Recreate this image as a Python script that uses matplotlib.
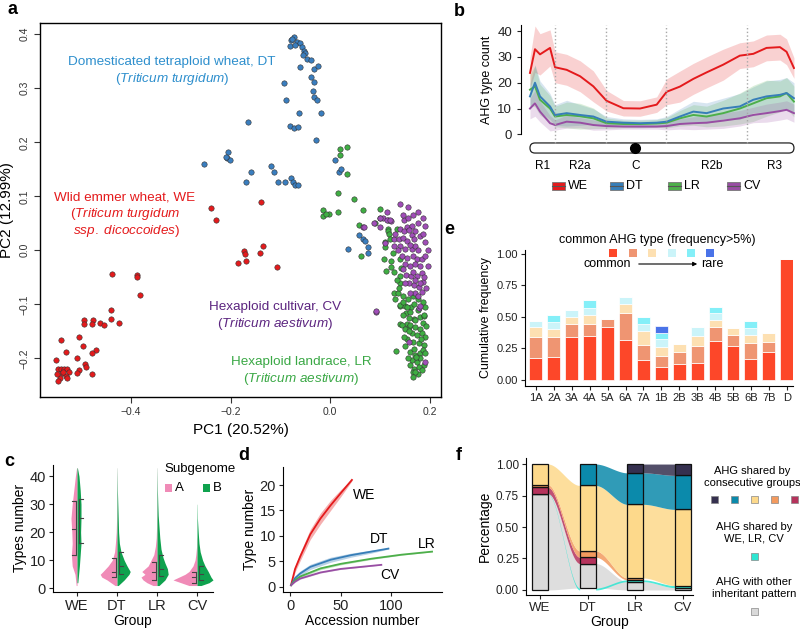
import numpy as np
import matplotlib
matplotlib.use("Agg")
import matplotlib.pyplot as plt
from matplotlib.patches import Rectangle, FancyBboxPatch

plt.rcParams['font.family'] = ['Liberation Sans', 'DejaVu Sans']
plt.rcParams['mathtext.fontset'] = 'custom'
plt.rcParams['mathtext.rm'] = 'Liberation Sans'
plt.rcParams['mathtext.it'] = 'Liberation Sans:italic'

# ---------------- panel a: PCA ----------------
we_x = [-0.239, -0.230, -0.139, -0.173, -0.170, -0.169, -0.185, -0.140, -0.135, -0.107,
        -0.438, -0.387, -0.387, -0.381, -0.440, -0.440, -0.493, -0.475, -0.461, -0.477,
        -0.453, -0.423, -0.493, -0.539, -0.503, -0.530, -0.495, -0.470, -0.477, -0.508,
        -0.492, -0.549, -0.545, -0.540, -0.533, -0.528, -0.523, -0.490, -0.503, -0.477,
        -0.507, -0.537, -0.530, -0.541, -0.545, -0.527, -0.535, -0.548]
we_y = [0.079, 0.057, 0.089, -0.001, -0.007, -0.019, -0.024, -0.005, 0.008, -0.031,
        -0.043, -0.046, -0.050, -0.083, -0.110, -0.128, -0.130, -0.129, -0.134, -0.137,
        -0.139, -0.134, -0.137, -0.167, -0.161, -0.188, -0.178, -0.184, -0.190, -0.199,
        -0.210, -0.204, -0.220, -0.220, -0.220, -0.220, -0.226, -0.217, -0.222, -0.230,
        -0.228, -0.228, -0.232, -0.237, -0.242, -0.237, -0.226, -0.230]

dt_x = [-0.073, -0.078, -0.081, -0.067, -0.060, -0.057, -0.053, -0.050, -0.055, -0.047,
        -0.039, -0.060, -0.033, -0.025, -0.039, -0.032, -0.093, -0.035, -0.033, -0.027,
        -0.088, -0.018, -0.062, -0.165, -0.081, -0.073, -0.065, -0.028, -0.205, -0.207,
        -0.201, -0.210, -0.253, -0.159, -0.169, -0.119, -0.112, -0.105, -0.091, -0.078,
        -0.075, -0.070, -0.065, 0.010, 0.017, 0.021, 0.035, 0.057, 0.065, 0.070,
        0.075, 0.076, -0.076, -0.071]
dt_y = [0.395, 0.389, 0.378, 0.386, 0.383, 0.377, 0.370, 0.366, 0.361, 0.355,
        0.353, 0.339, 0.336, 0.341, 0.321, 0.312, 0.309, 0.295, 0.284, 0.279,
        0.278, 0.254, 0.254, 0.238, 0.230, 0.227, 0.228, 0.204, 0.182, 0.170,
        0.168, 0.173, 0.159, 0.145, 0.127, 0.157, 0.145, 0.126, 0.126, 0.133,
        0.127, 0.120, 0.120, 0.168, 0.145, 0.150, 0.0015, 0.028, 0.021, 0.018,
        0.007, -0.005, 0.392, 0.380]

lr_x = [0.019, 0.033, 0.019, 0.033, 0.015, 0.047, -0.015, -0.003, -0.015, -0.008,
        0.015, 0.065, 0.057, 0.061, 0.100, 0.099, 0.089, 0.115, 0.115, 0.133,
        0.110, 0.110, 0.107, 0.121, 0.112, 0.140, 0.141, 0.140, 0.139, 0.127,
        0.135, 0.145, 0.139, 0.150, 0.152, 0.162, 0.140, 0.153, 0.167, 0.180,
        0.187, 0.157, 0.140, 0.153, 0.167, 0.187, 0.143, 0.150, 0.160, 0.170,
        0.180, 0.163, 0.173, 0.183, 0.153, 0.165, 0.177, 0.188, 0.132, 0.160,
        0.170, 0.180, 0.163, 0.173, 0.187, 0.167, 0.177, 0.165, 0.175, 0.118,
        0.120, 0.125, 0.122, 0.128, 0.133, 0.138, 0.130, 0.145, 0.155, 0.165,
        0.175, 0.185, 0.190, 0.175, 0.160, 0.145, 0.170, 0.185, 0.158, 0.190,
        0.150, 0.168, 0.185, 0.155, 0.180, 0.190, 0.160, 0.170, 0.183, 0.165,
        0.148, 0.158, 0.182, 0.192, 0.172]
lr_y = [0.188, 0.191, 0.176, 0.142, 0.106, 0.095, 0.074, 0.068, 0.063, 0.067,
        0.071, 0.074, 0.046, -0.011, 0.077, 0.059, 0.050, 0.040, 0.035, 0.039,
        0.016, 0.007, -0.016, -0.031, -0.039, -0.017, -0.033, -0.047, -0.061, -0.079,
        -0.080, -0.085, -0.103, -0.104, -0.117, -0.105, -0.136, -0.136, -0.127, -0.124,
        -0.121, -0.142, -0.102, -0.105, -0.099, -0.120, -0.139, -0.145, -0.139, -0.142,
        -0.145, -0.154, -0.157, -0.154, -0.164, -0.170, -0.172, -0.176, -0.187, -0.188,
        -0.194, -0.191, -0.204, -0.207, -0.213, -0.219, -0.216, -0.226, -0.230, 0.030,
        0.020, -0.005, -0.020, -0.040, -0.055, -0.070, -0.090, -0.095, -0.090, -0.085,
        -0.090, -0.095, -0.105, -0.110, -0.115, -0.120, -0.130, -0.135, -0.150, -0.160,
        -0.178, -0.182, -0.185, -0.200, -0.200, -0.190, -0.212, -0.225, -0.222, -0.235,
        -0.160, -0.125, -0.165, -0.140, -0.198]

cv_x = [0.092, 0.177, 0.157, 0.190, 0.139, 0.155, 0.113, 0.105, 0.115, 0.121,
        0.088, 0.100, 0.065, 0.147, 0.153, 0.163, 0.140, 0.148, 0.157, 0.163,
        0.127, 0.137, 0.145, 0.153, 0.167, 0.179, 0.110, 0.127, 0.140, 0.150,
        0.163, 0.170, 0.143, 0.153, 0.165, 0.173, 0.183, 0.150, 0.160, 0.170,
        0.180, 0.152, 0.161, 0.173, 0.183, 0.157, 0.167, 0.177, 0.185, 0.170,
        0.183, 0.179, 0.092, 0.100, 0.113, 0.119, 0.067, 0.175, 0.165, 0.185,
        0.190, 0.175, 0.185, 0.190, 0.195, 0.190, 0.195, 0.188, 0.192, 0.175,
        0.160, 0.150, 0.145, 0.135, 0.130, 0.155, 0.145, 0.170, 0.160, 0.175,
        0.165, 0.180, 0.170]
cv_y = [-0.115, -0.106, -0.170, -0.207, 0.086, 0.080, 0.071, 0.060, 0.057, 0.055,
        0.050, 0.043, 0.043, 0.057, 0.044, 0.045, 0.040, 0.035, 0.038, 0.029,
        0.021, 0.020, 0.023, 0.017, 0.020, 0.026, 0.014, 0.008, 0.008, 0.003,
        0.002, 0.008, -0.011, -0.014, -0.010, -0.017, -0.017, -0.026, -0.029, -0.026,
        -0.029, -0.045, -0.048, -0.047, -0.042, -0.061, -0.065, -0.068, -0.059, -0.079,
        -0.077, -0.103, -0.112, 0.059, 0.057, 0.057, 0.044, 0.070, 0.065, 0.060,
        0.045, 0.050, 0.030, 0.015, 0.000, -0.010, -0.030, -0.050, -0.070, -0.085,
        -0.080, -0.060, -0.035, 0.000, 0.030, 0.060, 0.065, 0.035, 0.010, 0.000,
        -0.040, -0.060, -0.055]

# ---------------- panel b: AHG type count along chromosome ----------------
b_pos = [0, 1.9, 3.8, 7.6, 9.5, 13.9, 19.0, 24.0, 29.0, 35.4, 41.7, 48.0,
         51.8, 56.8, 61.9, 66.9, 73.2, 79.5, 84.6, 89.6, 94.7, 97.2, 100]
b_we = [23.8, 33, 31, 33.5, 26, 25, 22.5, 18.6, 13, 10.1, 10, 11.5,
        16.5, 18.5, 21.5, 24, 27, 30.5, 31.2, 33.5, 33.8, 32, 25.7]
b_we_sd = [6, 9, 8, 7, 6, 6, 6, 6, 4, 3, 3, 3, 5, 6, 6, 6, 6, 5, 5, 5, 5, 5, 4]
b_dt = [14.7, 20, 14.7, 10.8, 7.5, 8.2, 7.5, 6.9, 4.9, 4.5, 4.3, 4.5,
        4.9, 6.9, 8.8, 8.2, 10, 10.8, 13.4, 14.7, 15.3, 16, 14]
b_dt_sd = [5, 7, 6, 5, 4, 5, 4, 3, 2, 1.5, 1.5, 1.5, 2, 3, 4, 4, 4, 5, 5, 6, 6, 6, 6]
b_lr = [17.3, 18.6, 13.4, 10, 6.9, 7.5, 7, 6.2, 4.3, 4, 4, 4.2,
        4.5, 6.2, 7.5, 6.9, 8.2, 10, 12, 14, 14.7, 16, 12.7]
b_lr_sd = [6, 8, 6, 5, 4, 5, 5, 4, 2, 1.5, 1.5, 1.5, 2, 3, 4, 4, 5, 6, 7, 7, 6, 6, 6]
b_cv = [10, 12, 8.8, 4.3, 3.6, 4.9, 4.5, 3.6, 3.2, 3, 3, 3,
        3.2, 4, 4.3, 4.5, 5.3, 6.2, 7.5, 8.2, 9, 9.5, 8.2]
b_cv_sd = [4, 5, 4, 3, 2, 2.5, 2, 2, 1.5, 1, 1, 1, 1.5, 2, 2.5, 2.5, 3, 3, 3, 3.5, 3.5, 3.5, 3.5]
b_bounds = [9.5, 28.8, 51.5, 82.2]
b_centromere = 39.8
b_regions = ["R1", "R2a", "C", "R2b", "R3"]
b_region_pos = [4.9, 18.9, 40.2, 68.9, 92.8]

# ---------------- panel c: half violins ----------------
c_groups = ["WE", "DT", "LR", "CV"]
c_a_y = [[1, 5, 8, 12, 16, 20, 25, 30, 35, 40, 43],
         [1, 3, 4, 5, 6, 8, 10, 13, 16, 20, 25, 30, 35, 40, 43],
         [1, 2, 3, 4, 5, 6, 7, 8, 10, 12, 15, 18, 22, 28, 35, 43],
         [1, 2, 3, 4, 5, 6, 8, 10, 12, 15, 18]]
c_a_w = [[0.02, 0.05, 0.12, 0.14, 0.12, 0.13, 0.15, 0.12, 0.08, 0.04, 0.01],
         [0.05, 0.25, 0.38, 0.42, 0.35, 0.22, 0.12, 0.06, 0.04, 0.02, 0.01, 0.006, 0.004, 0.003, 0.002],
         [0.1, 0.25, 0.35, 0.4, 0.3, 0.38, 0.3, 0.22, 0.15, 0.08, 0.04, 0.02, 0.01, 0.006, 0.004, 0.002],
         [0.2, 0.4, 0.6, 0.45, 0.3, 0.2, 0.1, 0.05, 0.03, 0.01, 0.005]]
c_b_y = [[2, 8, 12, 16, 20, 25, 30, 35, 40, 43],
         [1, 3, 5, 6, 8, 10, 13, 16, 20, 25, 30, 35, 40, 43],
         [1, 3, 5, 7, 9, 11, 14, 18, 22, 26, 30, 35, 40, 43],
         [1, 2, 3, 4, 6, 8, 10, 13, 16, 20, 25, 30]]
c_b_w = [[0.02, 0.06, 0.08, 0.1, 0.09, 0.1, 0.1, 0.08, 0.05, 0.01],
         [0.03, 0.18, 0.3, 0.33, 0.25, 0.18, 0.1, 0.06, 0.04, 0.03, 0.02, 0.01, 0.005, 0.002],
         [0.05, 0.2, 0.28, 0.26, 0.2, 0.15, 0.1, 0.07, 0.05, 0.03, 0.02, 0.01, 0.005, 0.002],
         [0.1, 0.3, 0.4, 0.35, 0.28, 0.2, 0.14, 0.08, 0.05, 0.03, 0.01, 0.004]]
c_a_quart = [[12, 21, 31], [4, 6, 11], [3, 6, 9.5], [2, 4, 6]]
c_b_quart = [[16, 25, 32], [5, 8, 13], [4.5, 7, 12], [3, 5, 8]]

# ---------------- panel d: accumulation curves ----------------
d_we_x = [1, 5, 10, 20, 30, 40, 50, 61]
d_we_y = [0.3, 3.5, 5.9, 10.3, 13.4, 16, 18.4, 21]
d_we_sd = [0.1, 0.6, 0.8, 1.0, 1.1, 1.0, 0.7, 0.2]
d_dt_x = [1, 5, 10, 20, 40, 60, 80, 97]
d_dt_y = [0.3, 1.7, 2.6, 3.9, 5.3, 6.2, 6.9, 7.5]
d_dt_sd = [0.1, 0.4, 0.5, 0.5, 0.5, 0.4, 0.3, 0.1]
d_lr_x = [1, 5, 10, 30, 50, 80, 110, 140]
d_lr_y = [0.3, 1.3, 2.0, 3.6, 4.5, 5.5, 6.3, 6.9]
d_lr_sd = [0.05, 0.2, 0.25, 0.25, 0.2, 0.15, 0.1, 0.05]
d_cv_x = [1, 5, 10, 30, 50, 70, 90]
d_cv_y = [0.3, 1.0, 1.6, 2.8, 3.5, 3.9, 4.3]
d_cv_sd = [0.05, 0.12, 0.12, 0.12, 0.1, 0.08, 0.04]

# ---------------- panel e: cumulative frequency ----------------
e_chrom = ["1A", "2A", "3A", "4A", "5A", "6A", "7A", "1B", "2B", "3B", "4B", "5B", "6B", "7B", "D"]
e_t1 = [0.177, 0.185, 0.339, 0.349, 0.418, 0.317, 0.159, 0.100, 0.124, 0.138, 0.312, 0.270, 0.169, 0.225, 0.958]
e_t2 = [0.167, 0.154, 0.105, 0.095, 0.063, 0.212, 0.119, 0.090, 0.096, 0.132, 0.106, 0.084, 0.127, 0.074, 0]
e_t3 = [0.074, 0.063, 0.059, 0.072, 0, 0.074, 0.111, 0.069, 0.063, 0.079, 0.058, 0.056, 0.061, 0.071, 0]
e_t4 = [0.052, 0.061, 0.053, 0.053, 0, 0.058, 0.055, 0.064, 0, 0.069, 0.053, 0, 0.058, 0, 0]
e_t5 = [0, 0.053, 0, 0.061, 0, 0, 0.053, 0.053, 0, 0, 0.048, 0, 0.056, 0, 0]
e_t6 = [0, 0, 0, 0, 0, 0, 0, 0.053, 0, 0, 0, 0, 0, 0, 0]
e_colors = ["#fd4729", "#ef9572", "#fde0b2", "#cbf4f9", "#84eff8", "#4a73e8"]

# ---------------- panel f: alluvial ----------------
f_groups = ["WE", "DT", "LR", "CV"]
f_other = [0.760, 0.195, 0.066, 0.018]
f_wlc = [0.005, 0.015, 0.014, 0.017]
f_we_dt = [0.050, 0.050, 0, 0]
f_we_lr = [0.020, 0.050, 0.015, 0]
f_all = [0.165, 0.520, 0.585, 0.605]
f_dt_cv = [0, 0.170, 0.250, 0.270]
f_lr_cv = [0, 0, 0.070, 0.090]
f_order = [[0, 1, 2, 3, 4, 5, 6], [1, 0, 2, 3, 4, 5, 6],
           [0, 1, 2, 3, 4, 5, 6], [0, 1, 2, 3, 4, 5, 6]]
f_colors = ["#d9d9d9", "#2ee6d2", "#b5335c", "#f39a5e", "#fdd98b", "#0b8aab", "#35304f"]

W, H = 800, 633
fig = plt.figure(figsize=(8, 6.33), dpi=100)


def box(l, t, r, b):
    return [l / W, 1 - b / H, (r - l) / W, (b - t) / H]


def simple_axes(ax):
    ax.spines['top'].set_visible(False)
    ax.spines['right'].set_visible(False)
    ax.tick_params(length=3, width=0.8, colors='#222222')


# ---- a ----
ax = fig.add_axes(box(40, 22.7, 441, 397))
ax.scatter(we_x, we_y, s=15, c="#e41a1c", edgecolors="#333333", linewidths=0.4, zorder=3)
ax.scatter(dt_x, dt_y, s=15, c="#3a7ebf", edgecolors="#333333", linewidths=0.4, zorder=3)
ax.scatter(lr_x, lr_y, s=15, c="#3fae43", edgecolors="#333333", linewidths=0.4, zorder=3)
ax.scatter(cv_x, cv_y, s=15, c="#a04db8", edgecolors="#333333", linewidths=0.4, zorder=3)
ax.set_xlim(-0.582, 0.222)
ax.set_ylim(-0.2717, 0.4215)
ax.set_xticks([-0.4, -0.2, 0.0, 0.2])
ax.set_xticklabels(["\u22120.4", "\u22120.2", "0.0", "0.2"])
ax.set_yticks([-0.2, -0.1, 0.0, 0.1, 0.2, 0.3, 0.4])
ax.set_yticklabels(["\u22120.2", "\u22120.1", "0.0", "0.1", "0.2", "0.3", "0.4"],
                   rotation=90, va='center')
ax.tick_params(labelsize=7.5, length=4, width=0.8, colors='#333333')
ax.set_xlabel("PC1 (20.52%)", fontsize=11, labelpad=4)
ax.set_ylabel("PC2 (12.99%)", fontsize=11, labelpad=4)
for s in ax.spines.values():
    s.set_linewidth(1.0)

# ---- b ----
axb = fig.add_axes(box(521, 24.7, 795, 134.3))
b_series = [(b_we, b_we_sd, "#e41a1c"), (b_dt, b_dt_sd, "#377eb8"),
            (b_lr, b_lr_sd, "#4daf4a"), (b_cv, b_cv_sd, "#984ea3")]
for vals, sd, col in b_series:
    v = np.array(vals)
    e = np.array(sd)
    axb.fill_between(b_pos, v - e, v + e, color=col, alpha=0.2, lw=0)
for vals, sd, col in b_series[::-1]:
    axb.plot(b_pos, vals, color=col, lw=1.4)
axb.set_xlim(-3.4, 100.4)
axb.set_ylim(0, 42.5)
simple_axes(axb)
axb.spines['bottom'].set_visible(False)
axb.set_xticks([])
axb.set_yticks([0, 10, 20, 30, 40])
axb.tick_params(labelsize=9.5)
axb.set_ylabel("AHG type count", fontsize=9, labelpad=3)
tr = axb.get_xaxis_transform()
for xb in b_bounds:
    axb.plot([xb, xb], [-0.079, 1.0], transform=tr, ls=':', color='#a8a8a8', lw=1.0, clip_on=False)
chrom = FancyBboxPatch((0, -0.171), 100, 0.092, boxstyle="round,pad=0,rounding_size=1.9",
                       mutation_aspect=0.024, transform=tr, facecolor='white',
                       edgecolor='#222222', lw=0.9, clip_on=False)
axb.add_patch(chrom)
axb.plot([b_centromere], [-0.125], 'o', ms=7, color='black', transform=tr, clip_on=False)
for name, xp in zip(b_regions, b_region_pos):
    axb.text(xp, -0.285, name, transform=tr, ha='center', va='center', fontsize=8.5)

# ---- c ----
axc = fig.add_axes(box(53, 465, 213, 591.7))
for i in range(4):
    p = i + 1
    axc.fill_betweenx(c_a_y[i], p - np.array(c_a_w[i]), p, color="#f08bb7", lw=0)
    axc.fill_betweenx(c_b_y[i], p, p + np.array(c_b_w[i]), color="#0fa24e", lw=0)
    qa = c_a_quart[i]
    axc.plot([p - 0.03, p - 0.03], [qa[0], qa[2]], color='#444444', lw=0.8)
    for q in qa:
        axc.plot([p - 0.13, p - 0.03], [q, q], color='#444444', lw=0.8)
    qb = c_b_quart[i]
    axc.plot([p + 0.06, p + 0.06], [qb[0], qb[2]], color='#444444', lw=0.8)
    for q in qb:
        axc.plot([p + 0.06, p + 0.16], [q, q], color='#444444', lw=0.8)
axc.set_xlim(0.4, 4.4)
axc.set_ylim(-1.2, 44)
simple_axes(axc)
axc.set_xticks([1, 2, 3, 4])
axc.set_xticklabels(c_groups)
axc.set_yticks([0, 10, 20, 30, 40])
axc.tick_params(labelsize=10.5, pad=2)
axc.set_xlabel("Group", fontsize=10, labelpad=1)
axc.set_ylabel("Types number", fontsize=10, labelpad=2)

# ---- d ----
axd = fig.add_axes(box(283, 466.7, 441.7, 592))
d_series = [(d_we_x, d_we_y, d_we_sd, "#e41a1c"), (d_dt_x, d_dt_y, d_dt_sd, "#377eb8"),
            (d_lr_x, d_lr_y, d_lr_sd, "#4daf4a"), (d_cv_x, d_cv_y, d_cv_sd, "#984ea3")]
for xs, ys, sd, col in d_series:
    y = np.array(ys)
    e = np.array(sd)
    axd.fill_between(xs, y - e, y + e, color=col, alpha=0.35, lw=0)
    axd.plot(xs, ys, color=col, lw=1.3)
for name, xp, yp in [("WE", 62, 18), ("DT", 79, 9.3), ("LR", 126, 8.4), ("CV", 89, 2.3)]:
    axd.text(xp, yp, name, fontsize=10, ha='left', va='center')
axd.set_xlim(-6.9, 149.5)
axd.set_ylim(-1.04, 23.6)
simple_axes(axd)
axd.set_xticks([0, 50, 100])
axd.set_yticks([0, 5, 10, 15, 20])
axd.tick_params(labelsize=10.5, pad=2)
axd.set_xlabel("Accession number", fontsize=10, labelpad=1)
axd.set_ylabel("Type number", fontsize=10, labelpad=2)

# ---- e ----
axe = fig.add_axes(box(525, 250, 793, 385.7))
xpos = np.arange(len(e_chrom))
bottom = np.zeros(len(e_chrom))
for vals, col in zip([e_t1, e_t2, e_t3, e_t4, e_t5, e_t6], e_colors):
    axe.bar(xpos, vals, width=0.72, bottom=bottom, color=col, edgecolor='white', lw=0.5)
    bottom = bottom + np.array(vals)
axe.set_xlim(-0.61, 14.35)
axe.set_ylim(-0.045, 1.03)
simple_axes(axe)
axe.set_xticks(xpos)
axe.set_xticklabels(e_chrom)
axe.set_yticks([0, 0.25, 0.5, 0.75, 1.0])
axe.set_yticklabels(["0.00", "0.25", "0.50", "0.75", "1.00"])
axe.tick_params(labelsize=8, pad=2)
axe.set_ylabel("Cumulative frequency", fontsize=9, labelpad=3)

# ---- f ----
axf = fig.add_axes(box(526, 458, 693, 595))
f_cols = [f_other, f_wlc, f_we_dt, f_we_lr, f_all, f_dt_cv, f_lr_cv]
hw = 0.167
lows, highs = [], []
for g in range(4):
    lo = [0.0] * 7
    hi = [0.0] * 7
    acc = 0.0
    for k in f_order[g]:
        lo[k] = acc
        acc += f_cols[k][g]
        hi[k] = acc
    lows.append(lo)
    highs.append(hi)
t = np.linspace(0, 1, 60)
sm = t * t * (3 - 2 * t)
for g in range(3):
    x0, x1 = g + 1 + hw, g + 2 - hw
    for k in range(7):
        if f_cols[k][g] > 0 and f_cols[k][g + 1] > 0:
            l0, l1 = lows[g][k], lows[g + 1][k]
            h0, h1 = highs[g][k], highs[g + 1][k]
            axf.fill_between(x0 + (x1 - x0) * t, l0 + (l1 - l0) * sm, h0 + (h1 - h0) * sm,
                             color=f_colors[k], alpha=0.85, lw=0)
for g in range(4):
    for k in range(7):
        if f_cols[k][g] <= 0 or (g == 1 and k == 1):
            continue
        axf.add_patch(Rectangle((g + 1 - hw, lows[g][k]), 2 * hw, f_cols[k][g],
                                facecolor=f_colors[k], edgecolor='#111111', lw=0.9, zorder=3))
axf.set_xlim(0.707, 4.21)
axf.set_ylim(-0.04, 1.048)
simple_axes(axf)
axf.set_xticks([1, 2, 3, 4])
axf.set_xticklabels(f_groups)
axf.set_yticks([0, 0.25, 0.5, 0.75, 1.0])
axf.set_yticklabels(["0.00", "0.25", "0.50", "0.75", "1.00"])
axf.tick_params(axis='y', labelsize=8.5, pad=2)
axf.tick_params(axis='x', labelsize=9.5, pad=2)
axf.set_xlabel("Group", fontsize=10, labelpad=1)
axf.set_ylabel("Percentage", fontsize=10, labelpad=3)

# ---- overlay: panel letters, annotations, legends ----
ov = fig.add_axes([0, 0, 1, 1])
ov.set_xlim(0, W)
ov.set_ylim(H, 0)
ov.axis('off')
ov.patch.set_alpha(0)

for letter, xl, yl in [("a", 12, 10), ("b", 459, 12), ("c", 9, 462), ("d", 244, 455),
                       ("e", 449, 230), ("f", 459, 455)]:
    ov.text(xl, yl, letter, fontsize=13, fontweight='bold', ha='center', va='center')

ov.text(172, 62, "Domesticated tetraploid wheat, DT", color="#2e8fcd", fontsize=9.7, ha='center', va='center')
ov.text(172, 79, r"($\mathit{Triticum\ turgidum}$)", color="#2e8fcd", fontsize=9.7, ha='center', va='center')
ov.text(125, 197, "Wlid emmer wheat, WE", color="#e41a1c", fontsize=9.7, ha='center', va='center')
ov.text(125, 214, r"($\mathit{Triticum\ turgidum}$", color="#e41a1c", fontsize=9.7, ha='center', va='center')
ov.text(127, 231, r"$\mathit{ssp.\ dicoccoides}$)", color="#e41a1c", fontsize=9.7, ha='center', va='center')
ov.text(275, 307, "Hexaploid cultivar, CV", color="#5c2580", fontsize=9.7, ha='center', va='center')
ov.text(275, 324, r"($\mathit{Triticum\ aestivum}$)", color="#5c2580", fontsize=9.7, ha='center', va='center')
ov.text(301, 362, "Hexaploid landrace, LR", color="#3aa845", fontsize=9.7, ha='center', va='center')
ov.text(301, 379, r"($\mathit{Triticum\ aestivum}$)", color="#3aa845", fontsize=9.7, ha='center', va='center')

# b legend
for name, col, xk in [("WE", "#e41a1c", 552), ("DT", "#377eb8", 610),
                      ("LR", "#4daf4a", 668), ("CV", "#984ea3", 727)]:
    ov.add_patch(Rectangle((xk, 182), 13, 8, facecolor=col, edgecolor='#777777', lw=0.6))
    ov.plot([xk, xk + 13], [186, 186], color='#555555', lw=0.8)
    ov.text(xk + 16, 186, name, fontsize=9, ha='left', va='center')

# c legend
ov.text(200, 469, "Subgenome", fontsize=9.5, ha='center', va='center')
ov.add_patch(Rectangle((165, 484), 7, 8, facecolor="#f08bb7", lw=0))
ov.text(175, 488, "A", fontsize=9.5, ha='left', va='center')
ov.add_patch(Rectangle((203, 484), 7, 8, facecolor="#0fa24e", lw=0))
ov.text(213, 488, "B", fontsize=9.5, ha='left', va='center')

# e legend
ov.text(657, 240, "common AHG type (frequency>5%)", fontsize=9, ha='center', va='center')
for col, xk in zip(e_colors, [613, 633, 652, 672, 691, 710]):
    ov.add_patch(Rectangle((xk - 4, 249), 8, 8, facecolor=col, lw=0))
ov.text(607, 264, "common", fontsize=9, ha='center', va='center')
ov.annotate("", xy=(700, 264), xytext=(636, 264),
            arrowprops=dict(arrowstyle='-|>', lw=0.8, color='black', mutation_scale=6))
ov.text(712, 264, "rare", fontsize=9, ha='center', va='center')

# f legend
ov.text(752, 477, "AHG shared by\nconsecutive groups", fontsize=8, ha='center', va='center',
        linespacing=1.15)
for k, xk in zip([6, 5, 4, 3, 2], [714, 734, 754, 774, 794]):
    ov.add_patch(Rectangle((xk - 3.5, 495.5), 7, 7, facecolor=f_colors[k], edgecolor='#888888', lw=0.5))
ov.text(754, 533, "AHG shared by\nWE, LR, CV", fontsize=8, ha='center', va='center', linespacing=1.15)
ov.add_patch(Rectangle((750.5, 552.5), 7, 7, facecolor=f_colors[1], edgecolor='#888888', lw=0.5))
ov.text(754, 588, "AHG with other\ninheritant pattern", fontsize=8, ha='center', va='center',
        linespacing=1.15)
ov.add_patch(Rectangle((750.5, 607.5), 7, 7, facecolor=f_colors[0], edgecolor='#888888', lw=0.5))

fig.savefig("out.png", dpi=100)
